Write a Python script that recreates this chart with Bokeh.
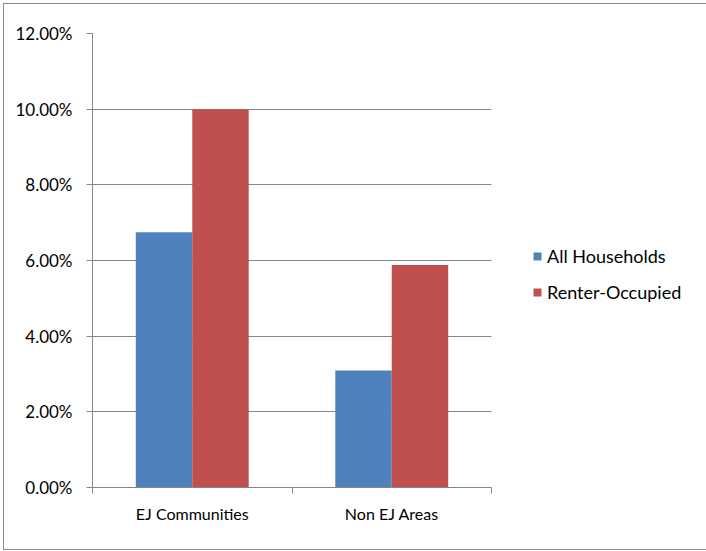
from bokeh.plotting import figure
from bokeh.models import ColumnDataSource, FixedTicker, NumeralTickFormatter, Range1d, Legend
from bokeh.transform import dodge
from bokeh.embed import file_html
from bokeh.resources import INLINE

categories = ["EJ Communities", "Non EJ Areas"]
all_households = [0.0675, 0.0309]
renter_occupied = [0.1000, 0.0588]
y_ticks = [0.0, 0.02, 0.04, 0.06, 0.08, 0.10, 0.12]

FONT = "Lato"
GREY = "#868686"

x = [i + 0.5 for i in range(len(categories))]
source = ColumnDataSource(data=dict(x=x, cat=categories,
                                    allh=all_households, rent=renter_occupied))

p = figure(width=701, height=547, output_backend="svg", toolbar_location=None,
           x_range=Range1d(0, len(categories)), y_range=Range1d(0, 0.12),
           frame_width=399, frame_height=454,
           min_border_left=88, min_border_top=29, min_border_right=212, min_border_bottom=62)

bw = 0.283
r1 = p.vbar(x=dodge("x", -bw / 2, range=p.x_range), top="allh", width=bw, source=source,
            color="#4F81BD", line_color=None)
r2 = p.vbar(x=dodge("x", bw / 2, range=p.x_range), top="rent", width=bw, source=source,
            color="#C0504D", line_color=None)

# x axis: labels at category centers, ticks at boundaries
p.xaxis.ticker = FixedTicker(ticks=x, minor_ticks=list(range(len(categories) + 1)))
p.xaxis.major_label_overrides = {xx: c for xx, c in zip(x, categories)}
p.xaxis.major_tick_out = 0
p.xaxis.major_tick_in = 0
p.xaxis.minor_tick_out = 6
p.xaxis.minor_tick_in = 0
p.xaxis.minor_tick_line_color = GREY
p.xaxis.axis_line_color = GREY
p.xaxis.major_label_text_font = FONT
p.xaxis.major_label_text_font_size = "16px"
p.xaxis.major_label_text_color = "#000000"
p.xaxis.major_label_standoff = 10

p.yaxis.ticker = FixedTicker(ticks=y_ticks, minor_ticks=[])
p.yaxis.formatter = NumeralTickFormatter(format="0.00%")
p.yaxis.major_tick_out = 6
p.yaxis.major_tick_in = 0
p.yaxis.major_tick_line_color = GREY
p.yaxis.axis_line_color = GREY
p.yaxis.major_label_text_font = FONT
p.yaxis.major_label_text_font_size = "17px"
p.yaxis.major_label_text_color = "#000000"
p.yaxis.major_label_standoff = 14

p.xgrid.grid_line_color = None
p.ygrid.grid_line_color = GREY
p.ygrid.grid_line_width = 1
p.outline_line_color = None

lg = Legend(items=[("All Households", [r1]), ("Renter-Occupied", [r2])])
lg.location = (41, 184)
lg.padding = 0
lg.margin = 0
lg.border_line_color = None
lg.background_fill_alpha = 0
lg.glyph_width = 10
lg.glyph_height = 10
lg.label_height = 20
lg.spacing = 14
lg.label_standoff = 5
lg.label_text_font = FONT
lg.label_text_font_size = "18px"
lg.label_text_color = "#000000"
p.add_layout(lg, "right")

p.styles = {"border": "1px solid #8c8c8c", "box-sizing": "border-box", "margin": "3px"}

open("out.html", "w").write(file_html(p, INLINE))
